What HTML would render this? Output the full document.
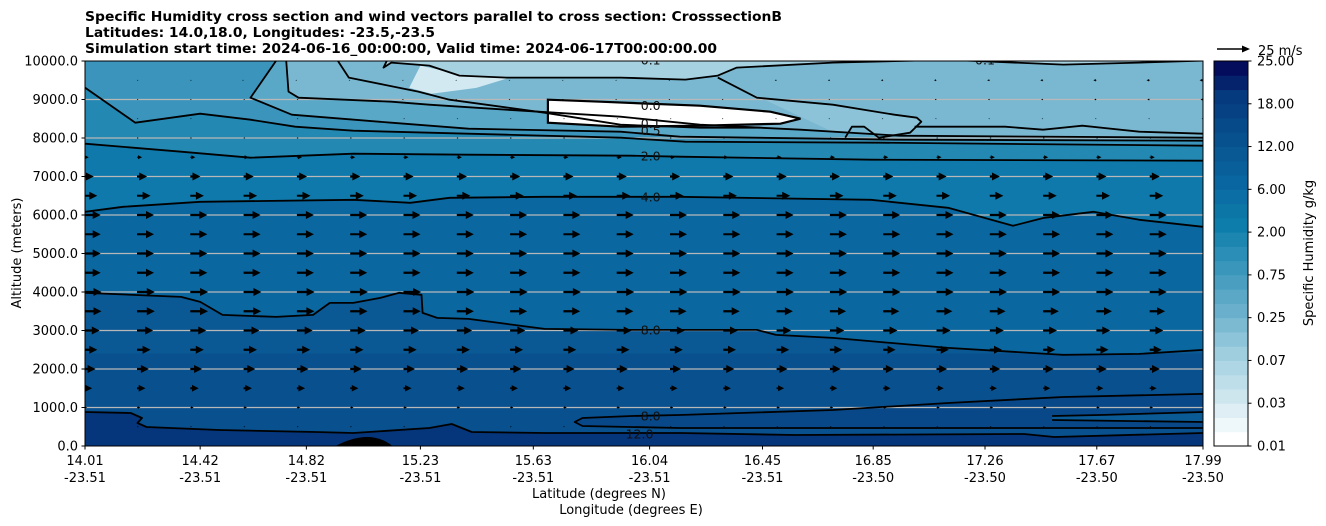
<!DOCTYPE html>
<html><head><meta charset="utf-8"><style>
html,body{margin:0;padding:0;background:#fff;}
svg{display:block;font-family:"DejaVu Sans","Liberation Sans",sans-serif;}
</style></head><body>
<svg id="chart" width="1326" height="526" viewBox="0 0 1326 526" xmlns="http://www.w3.org/2000/svg">
<defs><clipPath id="plotclip"><rect x="85" y="61" width="1118" height="385"/></clipPath></defs>
<g font-weight="bold" font-size="13">
<text x="85" y="21" textLength="697" lengthAdjust="spacingAndGlyphs">Specific Humidity cross section and wind vectors parallel to cross section: CrosssectionB</text>
<text x="85" y="37" textLength="350" lengthAdjust="spacingAndGlyphs">Latitudes: 14.0,18.0, Longitudes: -23.5,-23.5</text>
<text x="85" y="53" textLength="632" lengthAdjust="spacingAndGlyphs">Simulation start time: 2024-06-16_00:00:00, Valid time: 2024-06-17T00:00:00.00</text>
</g>
<g id="fills" clip-path="url(#plotclip)"></g>
<g id="grid"></g>
<g id="lines" clip-path="url(#plotclip)"></g>
<g id="quiver" clip-path="url(#plotclip)"></g>
<rect x="85" y="61" width="1118" height="385" fill="none" stroke="#000" stroke-width="1"/>
<g id="axes" font-size="13"></g>
<g id="cbar" font-size="13"></g>
<g>
<polygon points="1217,48.2 1242,48.2 1242,45.5 1250,49 1242,52.5 1242,49.8 1217,49.8" fill="#000"/>
<text x="1258" y="55" font-size="13">25 m/s</text>
</g>
<text transform="translate(21,253) rotate(-90)" text-anchor="middle" font-size="13">Altitude (meters)</text>
<text x="599" y="498" text-anchor="middle" font-size="13">Latitude (degrees N)</text>
<text x="631" y="514" text-anchor="middle" font-size="13">Longitude (degrees E)</text>
<text transform="translate(1313,253) rotate(-90)" text-anchor="middle" font-size="13">Specific Humidity g/kg</text>
</svg>
<script>
// ---- data ----
const latTicks = ["14.01","14.42","14.82","15.23","15.63","16.04","16.45","16.85","17.26","17.67","17.99"];
const lonTicks = ["-23.51","-23.51","-23.51","-23.51","-23.51","-23.51","-23.51","-23.50","-23.50","-23.50","-23.50"];
const tickPct = [0,10.3,19.8,30.0,40.1,50.5,60.6,70.5,80.5,90.5,100];
const altTicks = [0,1000,2000,3000,4000,5000,6000,7000,8000,9000,10000];
const cbarLabels = ["0.01","0.03","0.07","0.25","0.75","2.00","6.00","12.00","18.00","25.00"];
// contour lines: [percent along section, altitude m]
const c2 = [[0,7852],[8.6,7644],[14.8,7488],[24,7592],[34.3,7566],[48.9,7540],[53.2,7514],[70.3,7436],[100,7410]];
const c4 = [[0,6084],[3.4,6214],[10.3,6344],[24,6396],[29.1,6318],[32.6,6448],[41.1,6474],[53.2,6474],[70.3,6396],[77.2,6188],[83,5720],[85.8,5928],[90.2,6084],[94.3,5876],[100,5694]];
const c8a = [[0,3978],[8.6,3874],[10.3,3744],[12.3,3406],[17.1,3354],[20.4,3406],[21.9,3718],[24,3718],[26.4,3848],[28.1,3978],[30.1,3926],[30.2,3458],[31.5,3328],[34.3,3302],[37.7,3172],[41.1,3042],[48.6,3016],[56.6,3016],[60.1,3016],[61.8,2886],[66.9,2808],[77.2,2548],[87.5,2366],[94.3,2392],[100,2496]];
const c8b = [[100,468],[53.2,468],[44.5,520],[43.8,624],[44.5,728],[48.9,780],[53.2,806],[66.9,936],[77.2,1118],[87.5,1274],[100,1352]];
const c12 = [[0,884],[4.1,858],[5.1,728],[4.7,598],[5.5,494],[12,416],[20.6,364],[24,338],[30.8,468],[32.8,572],[34.6,364],[41.1,338],[47.6,338],[53.2,338],[63.5,286],[84,312],[86.7,234],[100,338]];
const cBR1 = [[86.5,780],[90.8,806],[100,884]];
const cBR2 = [[86.5,676],[100,624]];
const u1 = [[0,9308],[4.5,8398],[10.3,8632],[14.8,8476],[18.8,8294],[24,8190],[30.8,8138],[37.7,8086],[47.9,8008],[53.7,7904],[71.1,7878],[100,7800]];
const u2 = [[17.1,10010],[14.8,9048],[18.5,8606],[27.4,8398],[34.3,8242],[47.9,8164],[53.2,8034],[72.9,7956],[100,7930]];
const u3 = [[18,10010],[18.2,9204],[19.1,9048],[27.4,8944],[30.8,8866],[37.7,8736],[47.9,8554],[55,8346],[64,8216],[72.9,8060],[100,8008]];
const u4 = [[22.6,10010],[23.6,9568],[26.7,9386],[29.8,9204],[32.6,8996],[41.1,8658],[47.9,8346],[55,8268],[60.4,8268]];
const u5 = [[27,10010],[26.7,9828],[27.4,9958],[30.8,9880],[33.5,9620],[37.7,9568],[47.9,9568],[53.7,9516],[56.6,9620],[58.3,9828],[66.9,9958],[77.2,10030],[87.5,9906],[94.3,9958],[100,10010]];
const u6 = [[56.6,9568],[60.1,9048],[66.9,8866],[72.4,8606],[74.4,8528],[74.8,8424],[73.8,8138],[71,8008],[69.7,8294],[68.6,8294],[68,8008]];
const u7 = [[74.2,8294],[77.2,8294],[82.3,8294],[85.7,8216],[89.2,8320],[94.3,8164],[100,8112]];
const whiteZone = [[41.4,8996],[46.1,8944],[55,8840],[61.3,8684],[64,8502],[62.2,8372],[55,8320],[47.9,8294],[41.4,8398]];
const paleZone = [[30,9880],[34,9620],[38,9568],[35,9300],[31,9150],[29,9300]];
// wind speed (m/s) per row, altitudes 500..9500, at west and east ends
const rowAlt = [500,1000,1500,2000,2500,3000,3500,4000,4500,5000,5500,6000,6500,7000,7500,8000,8500,9000,9500];
const uWest = [1,2,5,7,8,9.5,10.5,10.5,10,10,10,10,8,6,3,1,0.5,0.3,0.2];
const uEast = [1,2,4,6,7,8,9,10,10,10,10,10,8,6,3,1,-0.5,-1.5,-2];

// ---- scales ----
const X = p => 85 + p * 11.18;
const Y = a => 446 - a * 0.0385;
const NS = "http://www.w3.org/2000/svg";
function mk(tag, attrs, parent){const e=document.createElementNS(NS,tag);for(const k in attrs)e.setAttribute(k,attrs[k]);parent.appendChild(e);return e;}
const pts = arr => arr.map(d => X(d[0]).toFixed(1)+","+Y(d[1]).toFixed(1)).join(" ");

// ---- fills ----
const fills = document.getElementById("fills");
let el;
el = mk("rect",{x:85,y:61,width:1118,height:385,fill:"#7ab8d1"},fills);


function fillPoly(name, arr, extra, color){
  const e = mk("polygon",{points:pts(arr.concat(extra)),fill:color},fills);
  
  
}
fillPoly("fill-top-light", u5, [[100,10500],[27,10500]], "#a6d1e1");
fillPoly("fill-u6", u6, [[56.6,9568]], "#8dc3d8");
fillPoly("fill-u3", u3, [[100,0],[0,0],[0,10010]], "#5aa8c8");
fillPoly("fill-u2", u2, [[100,0],[0,0],[0,10010]], "#3a94bb");
fillPoly("fill-u1", u1, [[100,0],[0,0]], "#2389b3");
fillPoly("fill-2", c2, [[100,0],[0,0]], "#0e79aa");
fillPoly("fill-4", c4, [[100,0],[0,0]], "#0a67a0");
fillPoly("fill-8a", c8a, [[100,0],[0,0]], "#0a5894");
fillPoly("fill-band", [[0,2400],[100,2400]], [[100,0],[0,0]], "#09508f");
fillPoly("fill-8b", c8b, [], "#084888");
fillPoly("fill-br", cBR1, [[100,600],[86.5,660]], "#0a5a95");
fillPoly("fill-12", c12, [[100,0],[0,0]], "#05357a");
fillPoly("fill-pale", paleZone, [], "#d2e9f1");
fillPoly("fill-white", whiteZone, [], "#ffffff");
el = mk("path",{d:`M${X(22.4)},446 Q${X(25.5)},428 ${X(27.5)},446 Z`,fill:"#000"},fills);



// ---- gridlines ----
const grid = document.getElementById("grid");
for (let i=1;i<altTicks.length-1;i++){
  const g = mk("line",{x1:85,x2:1203,y1:Y(altTicks[i]),y2:Y(altTicks[i]),stroke:"#b8b8b8","stroke-width":1.2},grid);
  
  
}

// ---- contour lines ----
const lines = document.getElementById("lines");
const allLines = {"contour-2":c2,"contour-4":c4,"contour-8-upper":c8a,"contour-8-lower":c8b,"contour-12":c12,"contour-u1":u1,"contour-u2":u2,"contour-u3":u3,"contour-u4":u4,"contour-u5":u5,"contour-u6":u6,"contour-u7":u7,"contour-br1":cBR1,"contour-br2":cBR2};
for (const name in allLines){
  const l = mk("polyline",{points:pts(allLines[name]),fill:"none",stroke:"#000","stroke-width":1.8,"stroke-linejoin":"round"},lines);
  
  
}
const wz = mk("polygon",{points:pts(whiteZone),fill:"none",stroke:"#000","stroke-width":2.2},lines);


const labels = [["2.0",50.6,7530],["4.0",50.6,6474],["8.0",50.6,3016],["8.0",50.6,780],["12.0",49.6,312],["0.5",50.6,8190],["0.1",50.6,8372],["0.0",50.6,8840],["0.1",50.6,10020],["0.1",80.5,10020]];
labels.forEach(d=>{
  const t = mk("text",{x:X(d[1]),y:Y(d[2])+4.5,"text-anchor":"middle","font-size":12.5,fill:"#111"},lines);
  t.textContent = d[0];
  
  
});

// ---- quiver ----
const quiver = document.getElementById("quiver");
for (let r=0;r<rowAlt.length;r++){
  const y = Y(rowAlt[r]);
  for (let i=-1;i<=20;i++){
    const x = 137 + 53.3*i;
    const t = Math.max(0,Math.min(1,i/20));
    const u = uWest[r]*(1-t) + uEast[r]*t;
    let L = u*1.7;
    const dir = L<0?-1:1; L=Math.abs(L);
    let s = 1, hl=8, hw=4, sw=1.1;
    if (L < 10){ L = Math.max(L,1.5); s = L/10; }
    hl*=s; hw*=s; sw*=s;
    const xs = x, xe = x + dir*L, xh = xe - dir*hl;
    const p = [[xs,y-sw],[xh,y-sw],[xh,y-hw],[xe,y],[xh,y+hw],[xh,y+sw],[xs,y+sw]];
    const a = mk("polygon",{points:p.map(q=>q[0].toFixed(1)+","+q[1].toFixed(1)).join(" "),fill:"#000"},quiver);
    
    
  }
}

// ---- axes ----
const axes = document.getElementById("axes");
altTicks.forEach(a=>{
  const y = Y(a);
  const tk = mk("line",{x1:81.5,x2:85,y1:y,y2:y,stroke:"#000","stroke-width":1},axes);
  
  
  const t = mk("text",{x:78,y:y+4.5,"text-anchor":"end"},axes);
  t.textContent = a.toFixed(1);
  
  
});
tickPct.forEach((p,i)=>{
  const x = X(p);
  const tk = mk("line",{x1:x,x2:x,y1:446,y2:449.5,stroke:"#000","stroke-width":1},axes);
  
  
  const t1 = mk("text",{x:x,y:465,"text-anchor":"middle"},axes);
  t1.textContent = latTicks[i];
  
  
  const t2 = mk("text",{x:x,y:482,"text-anchor":"middle"},axes);
  t2.textContent = lonTicks[i];
  
  
});

// ---- colorbar ----
const cbar = document.getElementById("cbar");
const anchors = [[0,[255,255,255]],[3,[205,230,238]],[6,[159,206,223]],[9,[106,176,204]],[12,[58,150,187]],[15,[13,126,171]],[18,[10,102,160]],[21,[7,82,142]],[24,[6,58,126]],[26,[4,12,92]]];
function bandColor(k){
  for(let j=0;j<anchors.length-1;j++){
    const [k0,c0]=anchors[j],[k1,c1]=anchors[j+1];
    if(k>=k0&&k<=k1){const f=(k-k0)/(k1-k0);return "rgb("+c0.map((v,q)=>Math.round(v+(c1[q]-v)*f)).join(",")+")";}
  }
  return "#000";
}
const nb = 27, bh = 385/nb;
for (let k=0;k<nb;k++){
  const b = mk("rect",{x:1214,y:446-(k+1)*bh,width:34,height:bh+0.5,fill:bandColor(k)},cbar);
  
  
}
const fr = mk("rect",{x:1214,y:61,width:34,height:385,fill:"none",stroke:"#000","stroke-width":1},cbar);


cbarLabels.forEach((l,i)=>{
  const y = 446 - i*385/9;
  const tk = mk("line",{x1:1248,x2:1251.5,y1:y,y2:y,stroke:"#000"},cbar);
  
  
  const t = mk("text",{x:1257,y:y+4.5},cbar);
  t.textContent = l;
  
  
});
</script>
</body></html>
